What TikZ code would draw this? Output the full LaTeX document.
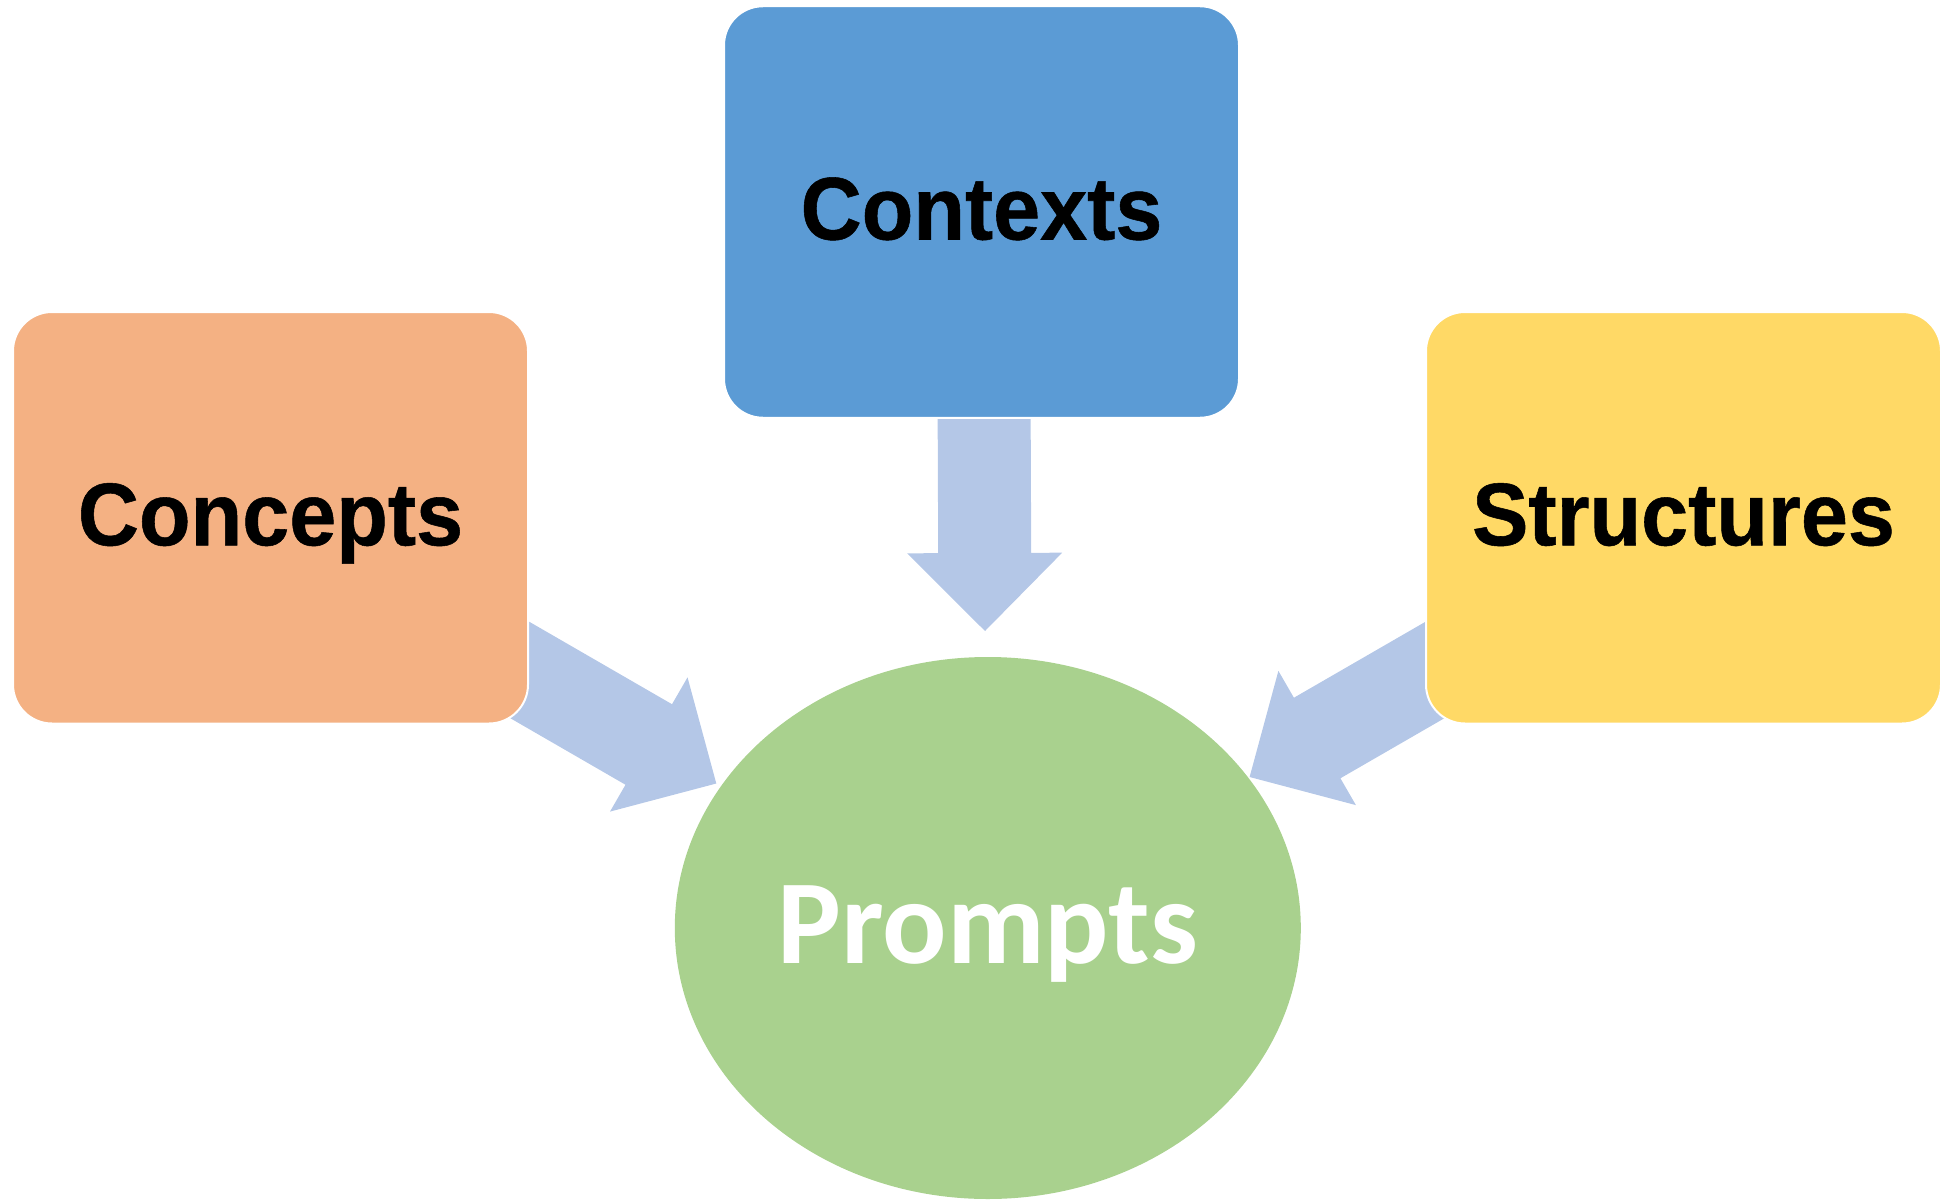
\documentclass[tikz,border=0pt]{standalone}
\usepackage{fontspec}
\setmainfont{Liberation Sans}
\newfontfamily\cardfont{Liberation Sans}[FakeStretch=0.95,FakeBold=0.6]
\newfontfamily\calfont{Carlito}
\usetikzlibrary{calc,shapes.geometric}
\definecolor{cOrange}{HTML}{F4B183}
\definecolor{cBlue}{HTML}{5B9BD5}
\definecolor{cGold}{HTML}{FFD966}
\definecolor{cGreen}{HTML}{A9D18E}
\definecolor{cArrow}{HTML}{B4C7E7}
\tikzset{
  card/.style={rectangle, rounded corners=39pt, draw=white, line width=2pt,
    minimum width=515pt, minimum height=411.5pt, inner sep=0pt,
    font=\cardfont\fontsize{89}{104}\selectfont\bfseries, text height=64pt, text depth=9pt},
  hub/.style={ellipse, fill=cGreen, minimum width=626pt, minimum height=542pt,
    inner sep=0pt, text=white, font=\calfont\fontsize{120}{140}\selectfont\bfseries,
    text height=77pt, text depth=7pt},
  arrowfill/.style={fill=cArrow}
}
\newcommand\fatarrow[2]{%
  \coordinate (#1-neck) at ($(#2)!78pt!(#1)$);
  \fill[arrowfill] ($(#1)!46.5pt!90:(#2)$) -- ($(#1-neck)!46.5pt!90:(#2)$)
    -- ($(#1-neck)!77.5pt!90:(#2)$) -- (#2) -- ($(#1-neck)!77.5pt!-90:(#2)$)
    -- ($(#1-neck)!46.5pt!-90:(#2)$) -- ($(#1)!46.5pt!-90:(#2)$) -- cycle;}
\begin{document}
\begin{tikzpicture}[x=1pt,y=-1pt]
\useasboundingbox (0,0) rectangle (1941,1201);
\node[hub] (prompts) at (987.8,928) {Prompts};
\coordinate (tailA) at (480,647);
\coordinate (tipA) at (716.3,783.5);
\coordinate (tailB) at (984,380);
\coordinate (tipB) at (985,631);
\coordinate (tailC) at (1483.4,642);
\coordinate (tipC) at (1249.6,777);
\fatarrow{tailA}{tipA}
\fatarrow{tailB}{tipB}
\fatarrow{tailC}{tipC}
\node[card, fill=cOrange] (concepts) at (270.5,517.75) {Concepts};
\node[card, fill=cBlue] (contexts) at (981.5,212) {Contexts};
\node[card, fill=cGold] (structures) at (1683.5,517.75) {Structures};
\end{tikzpicture}
\end{document}
